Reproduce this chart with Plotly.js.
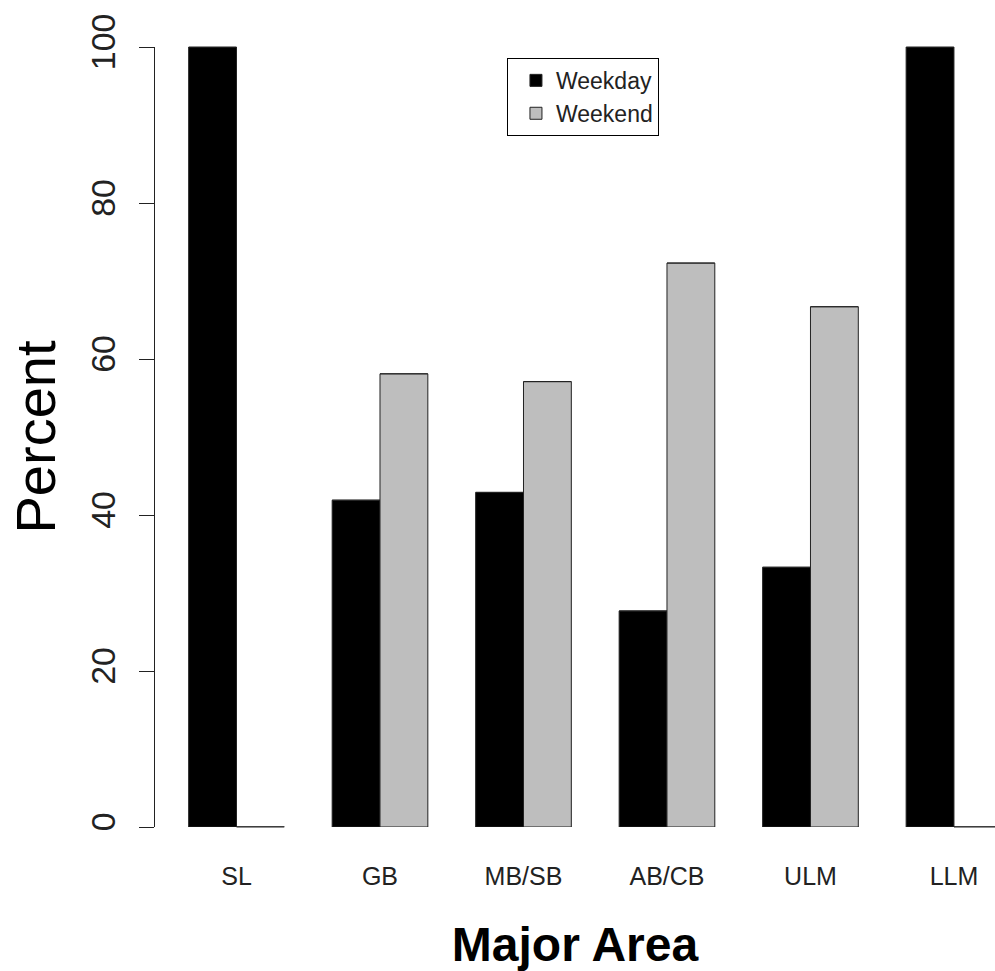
<!DOCTYPE html>
<html>
<head>
<meta charset="utf-8">
<script src="https://cdn.plot.ly/plotly-3.0.1.min.js"></script>
<style>html,body{margin:0;padding:0;background:#fff;}#chart{width:995px;height:971px;}</style>
</head>
<body>
<div id="chart"></div>
<script>
const categories = ["SL", "GB", "MB/SB", "AB/CB", "ULM", "LLM"];
const weekday = [100, 41.9, 42.9, 27.7, 33.3, 100];
const weekend = [0, 58.1, 57.1, 72.3, 66.7, 0];
const yTicks = [0, 20, 40, 60, 80, 100];

const outline = '#222';
const font = 'Liberation Sans, Arial, sans-serif';

const traces = [
  {type: 'bar', name: 'Weekday', x: categories, y: weekday, offsetgroup: 'a',
   marker: {color: '#000000', line: {color: outline, width: 1}}},
  {type: 'bar', name: 'Weekend', x: categories, y: weekend, offsetgroup: 'b',
   marker: {color: '#BEBEBE', line: {color: outline, width: 1}}},
  // bar top edges (so zero-height bars still show their border line, as in R)
  {type: 'scatter', mode: 'markers', x: categories, y: weekday, offsetgroup: 'a',
   showlegend: false, hoverinfo: 'skip', cliponaxis: false,
   marker: {symbol: 'line-ew', size: 34.1, line: {color: outline, width: 1}}},
  {type: 'scatter', mode: 'markers', x: categories, y: weekend, offsetgroup: 'b',
   showlegend: false, hoverinfo: 'skip', cliponaxis: false,
   marker: {symbol: 'line-ew', size: 34.1, line: {color: outline, width: 1}}}
];

const layout = {
  width: 995, height: 971,
  margin: {l: 155, r: 0, t: 47, b: 144},
  paper_bgcolor: '#fff', plot_bgcolor: '#fff',
  barmode: 'group', bargap: 1/3, bargroupgap: 0,
  scattermode: 'group', scattergap: 1/3,
  showlegend: true,
  legend: {x: 0.419, xanchor: 'left', y: 0.986, yanchor: 'top',
           bgcolor: '#fff', bordercolor: '#000', borderwidth: 1,
           font: {family: font, size: 23, color: '#222'},
           tracegroupgap: 0, indentation: 8, entrywidth: 145},
  xaxis: {type: 'category', range: [-0.568, 5.286], showgrid: false, zeroline: false,
          showline: false, ticks: '', ticklabelstandoff: 32,
          tickfont: {family: font, size: 25, color: '#222'},
          title: {text: '<b>Major Area</b>', font: {family: font, size: 48, color: '#000'}, standoff: 40}},
  yaxis: {range: [0, 100], tickvals: yTicks, ticktext: yTicks.map(String),
          showgrid: false, zeroline: false, showline: true, linecolor: outline, linewidth: 1,
          ticks: 'outside', ticklen: 15, tickcolor: outline, tickwidth: 1,
          tickangle: -90, ticklabelstandoff: 10,
          tickfont: {family: font, size: 34, color: '#222'},
          title: {text: 'Percent', font: {family: font, size: 56, color: '#000'}, standoff: 10}},
  hovermode: false
};

Plotly.newPlot('chart', traces, layout, {displayModeBar: false, staticPlot: true});
</script>
</body>
</html>
